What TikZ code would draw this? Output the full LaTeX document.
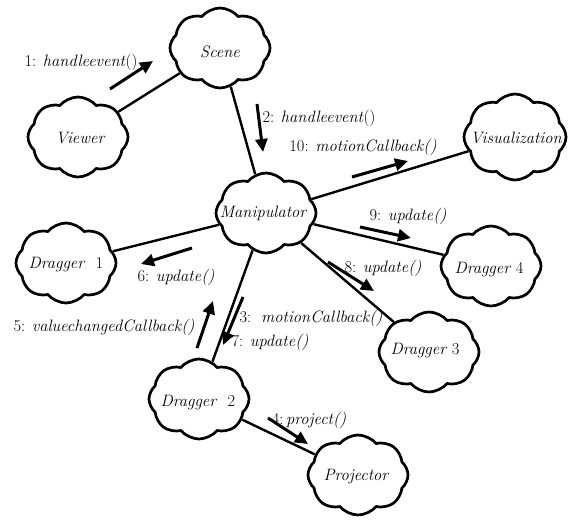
\documentclass[tikz,border=0pt]{standalone}
\usetikzlibrary{shapes.symbols,arrows.meta}
\begin{document}
\begin{tikzpicture}[x=1pt,y=-1pt,
  cl/.style={cloud, draw, line width=2.7pt, cloud puffs=8, cloud puff arc=100,
    cloud ignores aspect, minimum width=100pt, minimum height=80pt, inner sep=0pt},
  ctext/.style={font=\fontsize{16.5}{18}\selectfont\itshape},
  conn/.style={line width=2.4pt},
  msg/.style={line width=3pt, -{Triangle[length=13pt,width=12pt]}},
  lab/.style={font=\fontsize{16.5}{18}\selectfont, inner sep=0pt}]
\useasboundingbox (0,0) rectangle (568,520);
% clouds
\node[cl] (scene) at (220,48) {};
\node[ctext] (scenet) at (220,52) {Scene};
\node[cl] (viewer) at (78,137) {};
\node[ctext] (viewert) at (80,138) {Viewer};
\node[cl, minimum width=102pt, minimum height=86pt] (vis) at (515,137) {};
\node[ctext] (vist) at (516,138) {Visualization};
\node[cl] (manip) at (266,213) {};
\node[ctext] (manipt) at (263,213) {Manipulator};
\node[cl] (d1) at (66,263) {};
\node[ctext] (d1t) at (66,265) {Dragger\ \ \upshape 1};
\node[cl] (d4) at (491,266) {};
\node[ctext] (d4t) at (489,270) {Dragger \upshape 4};
\node[cl] (d3) at (429,352) {};
\node[ctext] (d3t) at (425,351) {Dragger \upshape 3};
\node[cl] (d2) at (199,399) {};
\node[ctext] (d2t) at (198,403) {Dragger\ \ \upshape 2};
\node[cl] (proj) at (358,475) {};
\node[ctext] (projt) at (356,477) {Projector};
% connectors
\draw[conn] (viewer) -- (scene);
\draw[conn] (scene) -- (manip);
\draw[conn] (manip) -- (vis);
\draw[conn] (manip) -- (d4);
\draw[conn] (manip) -- (d3);
\draw[conn] (manip) -- (d1);
\draw[conn] (manip) -- (d2);
\draw[conn] (d2) -- (proj);
% message arrows
\coordinate (a1s) at (110,89); \coordinate (a1e) at (153,61);
\coordinate (a2s) at (257,104); \coordinate (a2e) at (263,152);
\coordinate (a10s) at (352,177); \coordinate (a10e) at (408,161);
\coordinate (a9s) at (360,227); \coordinate (a9e) at (411,238);
\coordinate (a8s) at (328,262); \coordinate (a8e) at (374,291);
\coordinate (a6s) at (192,248); \coordinate (a6e) at (141,264);
\coordinate (a5s) at (197,348); \coordinate (a5e) at (213,301);
\coordinate (a3s) at (243,297); \coordinate (a3e) at (223,345);
\coordinate (a4s) at (268,418); \coordinate (a4e) at (308,444);
\draw[msg] (a1s) -- (a1e);
\draw[msg] (a2s) -- (a2e);
\draw[msg] (a10s) -- (a10e);
\draw[msg] (a9s) -- (a9e);
\draw[msg] (a8s) -- (a8e);
\draw[msg] (a6s) -- (a6e);
\draw[msg] (a5s) -- (a5e);
\draw[msg] (a3s) -- (a3e);
\draw[msg] (a4s) -- (a4e);
% labels
\node[lab] (l1) at (81,62) {1: \textit{handleevent}()};
\node[lab] (l2) at (319,118) {2: \textit{handleevent}()};
\node[lab] (l10) at (363,147) {10: \textit{motionCallback()}};
\node[lab] (l9) at (408,216) {9: \textit{update()}};
\node[lab] (l8) at (383,268) {8: \textit{update()}};
\node[lab] (l6) at (176,277) {6: \textit{update()}};
\node[lab] (l5) at (104,327) {5: \textit{valuechangedCallback()}};
\node[lab] (l3) at (311,318) {3:\ \ \textit{motionCallback()}};
\node[lab] (l7) at (270,342) {7: \textit{update()}};
\node[lab] (l4) at (309,420) {4:\,\textit{project()}};
\end{tikzpicture}
\end{document}
